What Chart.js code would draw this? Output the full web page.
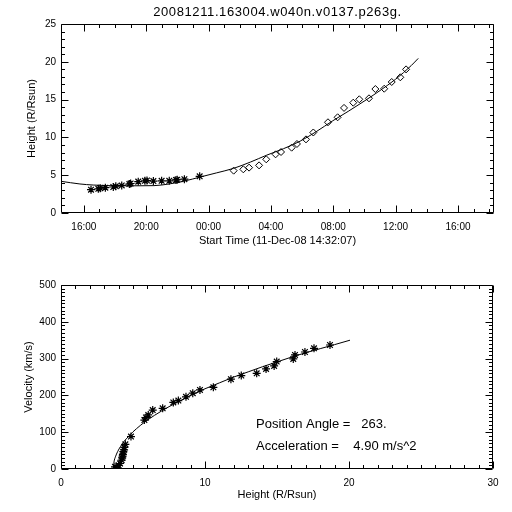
<!DOCTYPE html>
<html>
<head>
<meta charset="utf-8">
<script src="https://cdn.jsdelivr.net/npm/chart.js@4/dist/chart.umd.min.js"></script>
<style>
html,body{margin:0;padding:0;background:#fff;}
#wrap{position:relative;width:512px;height:512px;background:#fff;}
canvas{position:absolute;left:0;}
#c1{top:0;}
#c2{top:256px;}
</style>
</head>
<body>
<div id="wrap">
<canvas id="c1" width="512" height="256"></canvas>
<canvas id="c2" width="512" height="256"></canvas>
</div>
<script>
// ---------- DATA ----------
const plotTitle = "20081211.163004.w040n.v0137.p263g.";
const timeAxisTitle = "Start Time (11-Dec-08 14:32:07)";
const heightTitle = "Height (R/Rsun)";
const velocityTitle = "Velocity (km/s)";
const annotation1 = "Position Angle =   263.";
const annotation2 = "Acceleration =    4.90 m/s^2";

// time axis in hours since 00:00 11-Dec-08
const timeMin = 14.535;
const timeMax = 42.31;
const timeTicks = [16,17,18,19,20,21,22,23,24,25,26,27,28,29,30,31,32,33,34,35,36,37,38,39,40,41,42];
const timeLabelHours = [16,20,24,28,32,36,40];

// asterisks (inner coronagraph) - height vs time
const starT = [16.46,16.93,17.05,17.38,17.89,18.05,18.43,18.92,19.0,19.49,19.92,20.05,20.46,20.99,21.48,21.91,21.99,22.45,23.43];
const starH = [3.08,3.2,3.28,3.35,3.44,3.55,3.65,3.82,3.9,4.15,4.25,4.3,4.22,4.25,4.25,4.37,4.4,4.48,4.85];

// diamonds (outer coronagraph) - height vs time
const diaT = [25.61,26.23,26.6,27.24,27.7,28.3,28.65,29.33,29.67,30.25,30.72,31.66,32.28,32.69,33.28,33.67,34.29,34.7,35.27,35.75,36.3,36.67];
const diaH = [5.6,5.78,6.0,6.3,7.1,7.76,8.07,8.64,9.13,9.74,10.65,12.0,12.66,13.9,14.59,15.04,15.17,16.4,16.44,17.33,17.95,19.0];

// fitted height curve
const fitT = [14.54,15.75,16.6,17.5,18.5,19.5,20.5,21.5,22.5,23.45,24.5,25.6,26.7,27.73,28.8,29.87,30.9,31.97,33.0,34.1,35.0,36.0,37.0,37.45];
const fitH = [4.19,3.84,3.7,3.62,3.6,3.6,3.62,3.85,4.25,4.75,5.3,5.9,6.75,7.65,8.5,9.5,10.75,12.2,13.5,14.95,16.2,17.7,19.5,20.45];

// velocity vs height points
const velH = [3.75,3.85,4.0,4.1,4.21,4.25,4.28,4.3,4.33,4.38,4.4,4.47,4.86,5.79,5.9,6.06,6.37,7.06,7.8,8.15,8.68,9.15,9.65,10.58,11.8,12.52,13.59,14.24,14.8,14.98,16.13,16.25,16.94,17.57,18.68];
const velV = [6,2,10,15,24,30,35,40,47,52,59,67,88,133,140,147,160,165,181,186,196,206,215,222,244,254,260,272,280,292,299,310,318,328,337];

// fitted velocity curve
const fitVH = [3.63,3.68,3.78,3.93,4.13,4.38,4.68,5.0,5.5,6.0,7.0,8.0,9.0,10.0,11.0,12.0,13.0,14.0,15.0,16.0,17.0,18.0,19.0,20.07];
const fitVV = [0,19,33,47,61,75,88,101,118,133,158,180,200,218,234,250,264,278,291,304,316,327,338,350];

const heightTicks = [0,1,2,3,4,5,6,7,8,9,10,11,12,13,14,15,16,17,18,19,20,21,22,23,24,25];
const heightLabels = [0,5,10,15,20,25];
const hAxisTicks = [0,1,2,3,4,5,6,7,8,9,10,11,12,13,14,15,16,17,18,19,20,21,22,23,24,25,26,27,28,29,30];
const hAxisLabels = [0,10,20,30];
const velTicks = [];
for (let v = 0; v <= 500; v += 10) velTicks.push(v);
const velLabels = [0,100,200,300,400,500];

// ---------- HELPERS ----------
const FONT = '"Liberation Sans", Arial, sans-serif';
const pts = (xs, ys) => xs.map((x, i) => ({x: x, y: ys[i]}));
const pad2 = n => (n < 10 ? '0' : '') + n;

const framePlugin = {
  id: 'idlFrame',
  afterDraw(chart) {
    const {ctx, chartArea: a, scales} = chart;
    const L = Math.round(a.left) + 0.5, R = Math.round(a.right) - 0.5;
    const T = Math.round(a.top) + 0.5, B = Math.round(a.bottom) - 0.5;
    ctx.save();
    ctx.strokeStyle = '#000';
    ctx.lineWidth = 1;
    ctx.beginPath();
    ctx.rect(L, T, R - L, B - T);
    const xs = scales.x, ys = scales.y;
    xs.ticks.forEach(t => {
      const px = Math.round(xs.getPixelForValue(t.value)) + 0.5;
      const len = t.label ? 7 : 3.5;
      ctx.moveTo(px, B); ctx.lineTo(px, B - len);
      ctx.moveTo(px, T); ctx.lineTo(px, T + len);
    });
    ys.ticks.forEach(t => {
      const py = Math.round(ys.getPixelForValue(t.value)) + 0.5;
      const len = t.label ? 7 : 3.5;
      ctx.moveTo(L, py); ctx.lineTo(L + len, py);
      ctx.moveTo(R, py); ctx.lineTo(R - len, py);
    });
    ctx.stroke();
    ctx.restore();
  }
};

const titlePlugin = {
  id: 'topTitle',
  afterDraw(chart) {
    const {ctx, chartArea: a} = chart;
    ctx.save();
    ctx.fillStyle = '#000';
    ctx.font = '13px ' + FONT;
    ctx.textAlign = 'center';
    ctx.textBaseline = 'middle';
    try { ctx.letterSpacing = '0.6px'; } catch (e) {}
    ctx.fillText(plotTitle, (a.left + a.right) / 2, 12);
    ctx.restore();
  }
};

const notePlugin = {
  id: 'notes',
  afterDraw(chart) {
    const {ctx, scales} = chart;
    ctx.save();
    ctx.fillStyle = '#000';
    ctx.font = '13px ' + FONT;
    ctx.textAlign = 'left';
    ctx.textBaseline = 'middle';
    ctx.fillText(annotation1, scales.x.getPixelForValue(13.55), scales.y.getPixelForValue(122));
    ctx.fillText(annotation2, scales.x.getPixelForValue(13.55), scales.y.getPixelForValue(60));
    ctx.restore();
  }
};

function axis(opts) {
  return Object.assign({
    type: 'linear',
    grid: {display: false, drawTicks: false},
    border: {display: false},
  }, opts);
}

const tickFont = {family: FONT, size: 10};
const titleFont = {family: FONT, size: 11};

// ---------- TOP CHART ----------
new Chart(document.getElementById('c1'), {
  type: 'scatter',
  data: {
    datasets: [
      {data: pts(fitT, fitH), showLine: true, pointRadius: 0, borderColor: '#000', borderWidth: 1, tension: 0.4, cubicInterpolationMode: 'monotone', fill: false},
      {data: pts(starT, starH), pointStyle: 'star', pointRadius: 4, borderColor: '#000', borderWidth: 1.2, backgroundColor: '#000'},
      {data: pts(diaT, diaH), pointStyle: 'rectRot', pointRadius: 3.5, borderColor: '#000', borderWidth: 1, backgroundColor: 'rgba(0,0,0,0)'}
    ]
  },
  options: {
    responsive: false, animation: false, devicePixelRatio: 1,
    layout: {padding: {left: 0, right: 18, top: 24, bottom: 0}},
    plugins: {legend: {display: false}, tooltip: {enabled: false}},
    scales: {
      x: axis({
        min: timeMin, max: timeMax,
        afterBuildTicks: s => { s.ticks = timeTicks.map(v => ({value: v})); },
        afterFit: s => { s.height = 43; },
        ticks: {autoSkip: false, maxRotation: 0, padding: 8, color: '#000', font: tickFont,
          callback: v => timeLabelHours.includes(v) ? pad2(v % 24) + ':00' : ''},
        title: {display: true, text: timeAxisTitle, color: '#000', font: titleFont, padding: {top: 0, bottom: 8.4}}
      }),
      y: axis({
        min: 0, max: 25,
        afterBuildTicks: s => { s.ticks = heightTicks.map(v => ({value: v})); },
        afterFit: s => { s.width = 61; },
        ticks: {autoSkip: false, padding: 5, color: '#000', font: tickFont,
          callback: v => heightLabels.includes(v) ? String(v) : ''},
        title: {display: true, text: heightTitle, color: '#000', font: titleFont, padding: {top: 25.4, bottom: 0}}
      })
    }
  },
  plugins: [framePlugin, titlePlugin]
});

// ---------- BOTTOM CHART ----------
new Chart(document.getElementById('c2'), {
  type: 'scatter',
  data: {
    datasets: [
      {data: pts(fitVH, fitVV), showLine: true, pointRadius: 0, borderColor: '#000', borderWidth: 1, tension: 0.4, cubicInterpolationMode: 'monotone', fill: false},
      {data: pts(velH, velV), pointStyle: 'star', pointRadius: 4, borderColor: '#000', borderWidth: 1.2, backgroundColor: '#000'}
    ]
  },
  options: {
    responsive: false, animation: false, devicePixelRatio: 1,
    layout: {padding: {left: 0, right: 19, top: 29, bottom: 0}},
    plugins: {legend: {display: false}, tooltip: {enabled: false}},
    scales: {
      x: axis({
        min: 0, max: 30,
        afterBuildTicks: s => { s.ticks = hAxisTicks.map(v => ({value: v})); },
        afterFit: s => { s.height = 43; },
        ticks: {autoSkip: false, maxRotation: 0, padding: 8, color: '#000', font: tickFont,
          callback: v => hAxisLabels.includes(v) ? String(v) : ''},
        title: {display: true, text: heightTitle, color: '#000', font: titleFont, padding: {top: 0, bottom: 10.4}}
      }),
      y: axis({
        min: 0, max: 500,
        afterBuildTicks: s => { s.ticks = velTicks.map(v => ({value: v})); },
        afterFit: s => { s.width = 61; },
        ticks: {autoSkip: false, padding: 5, color: '#000', font: tickFont,
          callback: v => velLabels.includes(v) ? String(v) : ''},
        title: {display: true, text: velocityTitle, color: '#000', font: titleFont, padding: {top: 22, bottom: 0}}
      })
    }
  },
  plugins: [framePlugin, notePlugin]
});
</script>
</body>
</html>
